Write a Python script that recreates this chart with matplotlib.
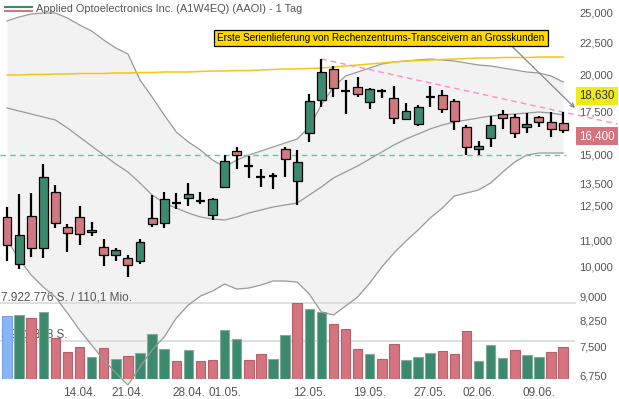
import matplotlib
matplotlib.use("Agg")
import numpy as np
import matplotlib.pyplot as plt
from matplotlib.ticker import FixedLocator, NullLocator, FuncFormatter

plt.rcParams['font.family'] = ['Liberation Sans', 'DejaVu Sans']

# trading days (47)
dates = ["04.04.", "07.04.", "08.04.", "09.04.", "10.04.", "11.04.",
         "14.04.", "15.04.", "16.04.", "17.04.", "21.04.", "22.04.", "23.04.",
         "24.04.", "25.04.", "28.04.", "29.04.", "30.04.", "01.05.", "02.05.",
         "05.05.", "06.05.", "07.05.", "08.05.", "09.05.", "12.05.", "13.05.",
         "14.05.", "15.05.", "16.05.", "19.05.", "20.05.", "21.05.", "22.05.",
         "23.05.", "27.05.", "28.05.", "29.05.", "30.05.", "02.06.", "03.06.",
         "04.06.", "05.06.", "06.06.", "09.06.", "10.06.", "11.06."]
tick_labels = ["14.04.", "21.04.", "28.04.", "01.05.", "12.05.", "19.05.",
               "27.05.", "02.06.", "09.06."]

open_ = [11957, 10091, 12001, 10691, 13087, 11533, 11957, 11327, 10753, 10424,
         10323, 10201, 11914, 11702, 12578, 12806, 12697, 12045, 13354, 15189,
         14390, 13846, 13896, 15284, 13648, 16240, 18229, 20425, 18865, 19118,
         18111, 18880, 18375, 17033, 16728, 18481, 18575, 18216, 16548, 15300,
         15938, 17343, 17175, 16566, 17175, 16868, 16807]
close = [10808, 11205, 10691, 13816, 11702, 11286, 11246, 11421, 10424, 10614,
         10055, 10925, 11660, 12760, 12578, 12993, 12697, 12774, 14636, 14955,
         14390, 13846, 13896, 14742, 14583, 18196, 20183, 19104, 18865, 18642,
         19002, 18880, 17113, 17551, 17787, 18481, 17659, 16950, 15395, 15484,
         16686, 17113, 16228, 16746, 16850, 16429, 16400]
high = [12398, 13007, 13068, 14494, 13436, 11672, 12456, 11757, 11056, 10714,
        10447, 11056, 12946, 13087, 13068, 13521, 13087, 12820, 14955, 15395,
        14919, 14235, 14047, 15428, 15245, 18642, 21175, 20648, 19650, 19808,
        19070, 19002, 19187, 18065, 17916, 19187, 18933, 18308, 16667, 15749,
        17218, 17615, 17362, 17406, 17256, 17469, 17469]
low = [10212, 9909, 10349, 10311, 11492, 10561, 10808, 11189, 10019, 10223,
       9650, 10102, 11559, 11492, 12309, 12456, 12533, 11841, 13305, 14220,
       13781, 13354, 13257, 13846, 12488, 15676, 17787, 18428, 17343, 18428,
       17710, 18394, 16728, 16989, 16643, 17825, 17443, 16388, 14972, 14972,
       15395, 16429, 15904, 16193, 16583, 15978, 16193]

volume = [6568000, 6672000, 6390000, 6985000, 4243000, 2815000, 3367000, 2293000,
          3263000, 2085000, 2398000, 2742000, 4691000, 3127000, 1876000, 3023000,
          1845000, 1981000, 5077000, 4201000, 1981000, 2575000, 2054000, 4556000,
          7922776, 7297000, 6985000, 5734000, 5181000, 3096000, 2575000, 2085000,
          3649000, 1981000, 2262000, 2742000, 2919000, 2637000, 5004000, 1908000,
          3544000, 2158000, 3054000, 2533000, 2293000, 2815000, 3336000]
vol_dir = "BGRGRRRGRGRGGGRGRRGGRRGGRGGRRRGRRGGGRRRGGGRGGRR"

bb_upper = [24288, 24642, 24910, 25000, 25000, 24553, 23940, 23427, 22678, 22033,
            21561, 19629, 18460, 17298, 16269, 15692, 15245, 14705, 14338, 14705,
            14972, 15189, 15412, 15636, 15863, 16566, 17934, 19139, 19915, 20204,
            20498, 20796, 20947, 21023, 21099, 21175, 21099, 21023, 20871, 20721,
            20648, 20498, 20351, 20204, 20131, 19915, 19488]
bb_mid = [17741, 17551, 17362, 17175, 16989, 16507, 15978, 15468, 14972, 14494,
          14082, 13533, 12960, 12591, 12365, 12144, 11970, 11884, 11841, 11970,
          12144, 12276, 12410, 12500, 12591, 12960, 13340, 13781, 14082, 14390,
          14759, 15136, 15523, 15863, 16152, 16447, 16686, 16868, 16989, 17113,
          17236, 17298, 17362, 17424, 17487, 17424, 17300]
bb_lower = [11017, 10286, 9709, 9297, 8968, 8464, 7961, 7541, 7143, 6816,
            6527, 6965, 7406, 7762, 8313, 8712, 9000, 9164, 9398, 9230,
            9264, 9364, 9501, 9501, 9466, 9065, 8495, 8403, 8681, 8968,
            9432, 9993, 10511, 10977, 11421, 11927, 12365, 12914, 13054, 13197,
            13533, 14082, 14599, 14972, 15081, 15081, 15081]
sma_long = [19988, 19988, 20023, 20023, 20059, 20059, 20095, 20095, 20095, 20131,
            20131, 20168, 20168, 20204, 20204, 20204, 20241, 20277, 20277, 20314,
            20314, 20351, 20388, 20425, 20425, 20461, 20498, 20572, 20648, 20721,
            20796, 20871, 20947, 21023, 21061, 21099, 21137, 21175, 21213, 21252,
            21252, 21290, 21290, 21290, 21327, 21327, 21327]

trend_x = [26, 50.5]
trend_y = [21175, 16746]
support = 15000
price_ticks = [6750, 7500, 8250, 9000, 10000, 11000, 12500, 13500, 15000,
               17500, 20000, 22500, 25000]
quote_label = 18630
news = "Erste Serienlieferung von Rechenzentrums-Transceivern an Grosskunden"
title = "Applied Optoelectronics Inc. (A1W4EQ) (AAOI) - 1 Tag"

GREEN = '#3c8a6e'
RED = '#d27880'
x = np.arange(len(dates))
o = np.array(open_); c = np.array(close)

W, H = 619, 399
def rect(x0, y0, x1, y1):
    return [x0 / W, 1 - y1 / H, (x1 - x0) / W, (y1 - y0) / H]

fig = plt.figure(figsize=(W / 100, H / 100), dpi=100)
ax_bg = fig.add_axes(rect(0, 0, 575, 386))
ax_vol = fig.add_axes(rect(0, 303, 575, 379))
ax = fig.add_axes(rect(0, 0, 575, 386))
ax_bg.set_zorder(0); ax_vol.set_zorder(1); ax.set_zorder(2)

xlim = (-0.58, 46.98)
ylim = (6504, 26201)
for a in (ax_bg, ax):
    a.set_yscale('log')
    a.set_ylim(*ylim)
    a.set_xlim(*xlim)
for a in (ax_bg, ax_vol, ax):
    for s in a.spines.values():
        s.set_visible(False)
ax_bg.axis('off')
ax_vol.patch.set_visible(False)
ax.patch.set_visible(False)

# bollinger shading
ax_bg.fill_between(x, bb_lower, bb_upper, color='#f2f2f2', lw=0)

# volume panel
vmax = max(volume)
ax_vol.set_xlim(*xlim)
ax_vol.set_ylim(0, vmax)
ax_vol.set_xticks([]); ax_vol.set_yticks([])
ax_vol.axhline(vmax, color='#d9d9d9', lw=1.2, zorder=0, clip_on=False)
ax_vol.axhline(vmax / 2, color='#d9d9d9', lw=1.2, zorder=0)
ax_vol.text(0.002, vmax, f"{vmax:,} S. / 110,1 Mio.".replace(',', '.', 2),
            transform=ax_vol.get_yaxis_transform(), va='bottom', ha='left',
            fontsize=8.5, color='#555555', zorder=0.5, clip_on=False)
ax_vol.text(0.002, vmax / 2, f"{vmax // 2:,} S.".replace(',', '.'),
            transform=ax_vol.get_yaxis_transform(), va='bottom', ha='left',
            fontsize=8.5, color='#555555', zorder=0.5)
fill = {'G': GREEN, 'R': '#d4747e', 'B': '#8ab4f8'}
edge = {'G': '#86ac9c', 'R': '#b5606a', 'B': '#7aa2e0'}
ax_vol.bar(x, volume, width=0.78, color=[fill[d] for d in vol_dir],
           edgecolor=[edge[d] for d in vol_dir], lw=0.8, zorder=2)

# indicator lines
for band in (bb_upper, bb_mid, bb_lower):
    ax.plot(x, band, color='#999999', lw=0.9, zorder=2)
ax.plot(x, sma_long, color='#f5c518', lw=1.1, zorder=2)
ax.plot([xlim[0], x[-1] + 0.2], [support, support], color='#45d3a3', lw=1.0,
        ls=(0, (4, 3)), zorder=2)
ax.plot(trend_x, trend_y, color='#ff8cc6', lw=1.0, ls=(0, (4, 3)), zorder=2,
        clip_on=False)

# candles
ax.vlines(x, low, high, color='black', lw=1.6, zorder=3)
doji = o == c
up = c > o
body_col = np.where(up, GREEN, RED)
ax.bar(x[~doji], np.abs(c - o)[~doji], bottom=np.minimum(o, c)[~doji],
       width=0.74, color=body_col[~doji], edgecolor='black', lw=0.9, zorder=4)
ax.hlines(o[doji], x[doji] - 0.37, x[doji] + 0.37, color='black', lw=1.6, zorder=4)

# axes ticks
ax.yaxis.tick_right()
ax.yaxis.set_major_locator(FixedLocator(price_ticks))
ax.yaxis.set_minor_locator(NullLocator())
ax.yaxis.set_major_formatter(FuncFormatter(lambda v, p: f"{v:,.0f}"))
ax.tick_params(axis='y', length=0, pad=3, labelsize=8, labelcolor='#555555')
ax.set_xticks([dates.index(d) for d in tick_labels], tick_labels)
ax.tick_params(axis='x', length=0, pad=1, labelsize=8.5, labelcolor='#555555')

# price labels on the right
ax.annotate(f"{quote_label:,}", xy=(1.0, quote_label),
            xycoords=('axes fraction', 'data'), xytext=(3, -1),
            textcoords='offset points', va='center', ha='left', fontsize=8.3,
            color='#333333', annotation_clip=False,
            bbox=dict(boxstyle='square,pad=0.28', fc='#eeea1c', ec='none'))
ax.annotate(f"{close[-1]:,}", xy=(1.0, close[-1]),
            xycoords=('axes fraction', 'data'), xytext=(3, -4.5),
            textcoords='offset points', va='center', ha='left', fontsize=8.3,
            color='white', annotation_clip=False,
            bbox=dict(boxstyle='square,pad=0.28', fc='#d4747e', ec='none'))

# news annotation
ax.annotate(news, xy=(1.0, 17741), xycoords=('axes fraction', 'data'),
            xytext=(0.6626, 0.9016), textcoords='axes fraction',
            ha='center', va='center', fontsize=7.2, color='black', zorder=6,
            annotation_clip=False,
            bbox=dict(boxstyle='square,pad=0.3', fc='#ffd800', ec='black', lw=0.9),
            arrowprops=dict(arrowstyle='->', color='#888888', lw=0.9,
                            relpos=(0.89, 0), shrinkA=0, shrinkB=0))

# title with legend icon
fig.add_artist(plt.Line2D([5 / W, 32 / W], [1 - 6.5 / H, 1 - 6.5 / H],
                          color=GREEN, lw=1.5))
fig.add_artist(plt.Line2D([5 / W, 32 / W], [1 - 10.5 / H, 1 - 10.5 / H],
                          color=RED, lw=1.5))
fig.text(36 / W, 1 - 9 / H, title, ha='left', va='center', fontsize=7.9,
         color='#555555')

fig.savefig("out.png", dpi=100)
